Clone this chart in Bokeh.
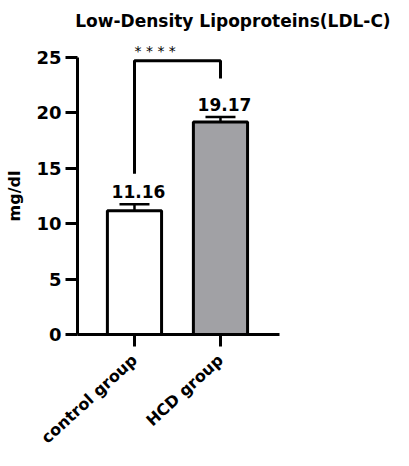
from bokeh.plotting import figure
from bokeh.models import Range1d, FixedTicker, ColumnDataSource, LabelSet, Label
from bokeh.core.properties import value
from bokeh.embed import file_html
from bokeh.resources import INLINE

# ---- data ----
categories = ["control group", "HCD group"]
means = [11.16, 19.17]
sems = [0.60, 0.45]
mean_labels = ["11.16", "19.17"]
fills = ["#ffffff", "#a1a1a5"]
y_ticks = [0, 5, 10, 15, 20, 25]
# significance bracket (data units)
bracket_left_bottom = 14.5
bracket_right_bottom = 23.1
bracket_top = 24.7
sig_text = "* * * *"
title_text = "Low-Density Lipoproteins(LDL-C)"

FONT = "DejaVu Sans"
xs = list(range(len(categories)))
tops = [m + s for m, s in zip(means, sems)]

src = ColumnDataSource(dict(x=xs, mean=means, top=tops, lab=mean_labels, fill=fills))

# frame covers the whole figure; axes are placed at fixed data locations
p = figure(width=393, height=450,
           x_range=Range1d(-1.558, 3.012), y_range=Range1d(-10.47, 30.14),
           output_backend="svg", toolbar_location=None,
           min_border_left=0, min_border_right=0, min_border_top=0, min_border_bottom=0)
p.outline_line_color = None
p.xgrid.visible = False
p.ygrid.visible = False
p.background_fill_color = "white"
p.border_fill_color = "white"

# error bars (upper only)
p.segment(x0="x", y0="mean", x1="x", y1="top", source=src, line_color="black", line_width=2.5)
p.scatter(x="x", y="top", source=src, marker="dash", size=30, line_color="black", line_width=2.5)

# bars
p.vbar(x="x", top="mean", bottom=0, width=0.63, source=src,
       fill_color="fill", line_color="black", line_width=3)

# value labels
p.add_layout(LabelSet(x="x", y="top", text="lab", source=src, x_offset=4, y_offset=6,
                      text_align="center", text_baseline="alphabetic",
                      text_font=value(FONT), text_font_style="bold", text_font_size="17px",
                      text_color="black"))

# significance bracket
p.line(x=[xs[0], xs[0], xs[1], xs[1]],
       y=[bracket_left_bottom, bracket_top, bracket_top, bracket_right_bottom],
       line_color="black", line_width=3)
p.add_layout(Label(x=xs[0], y=bracket_top, text=sig_text, y_offset=10,
                   text_align="left", text_baseline="alphabetic",
                   text_font=FONT, text_font_size="14px", text_color="black"))

# title
p.add_layout(Label(x=1.145, y=28.25, text=title_text, text_align="center", text_baseline="middle",
                   text_font=FONT, text_font_style="bold", text_font_size="17px",
                   text_color="black"))

# axes
for ax in (p.xaxis, p.yaxis):
    ax.axis_line_width = 3
    ax.axis_line_color = "black"
    ax.major_tick_line_width = 3
    ax.major_tick_line_color = "black"
    ax.major_tick_out = 12
    ax.major_tick_in = 0
    ax.minor_tick_line_color = None
    ax.major_label_text_font = FONT
    ax.major_label_text_font_style = "bold"
    ax.major_label_text_color = "black"

p.yaxis.fixed_location = -0.663
p.yaxis.bounds = (0, 25)
p.yaxis.ticker = FixedTicker(ticks=y_ticks)
p.yaxis.major_label_text_font_size = "18px"
p.yaxis.major_label_standoff = 4
p.yaxis.axis_label = "mg/dl"
p.yaxis.axis_label_text_font = FONT
p.yaxis.axis_label_text_font_style = "bold"
p.yaxis.axis_label_text_font_size = "16px"
p.yaxis.axis_label_standoff = 9
p.yaxis.axis_label_text_color = "black"

p.xaxis.fixed_location = 0
p.xaxis.bounds = (-0.663, 1.69)
p.xaxis.ticker = FixedTicker(ticks=xs)
p.xaxis.major_label_overrides = {i: c for i, c in zip(xs, categories)}
p.xaxis.major_label_orientation = 0.74
p.xaxis.major_label_text_font_size = "16px"
p.xaxis.major_label_standoff = 11

open("out.html", "w").write(file_html(p, INLINE))
